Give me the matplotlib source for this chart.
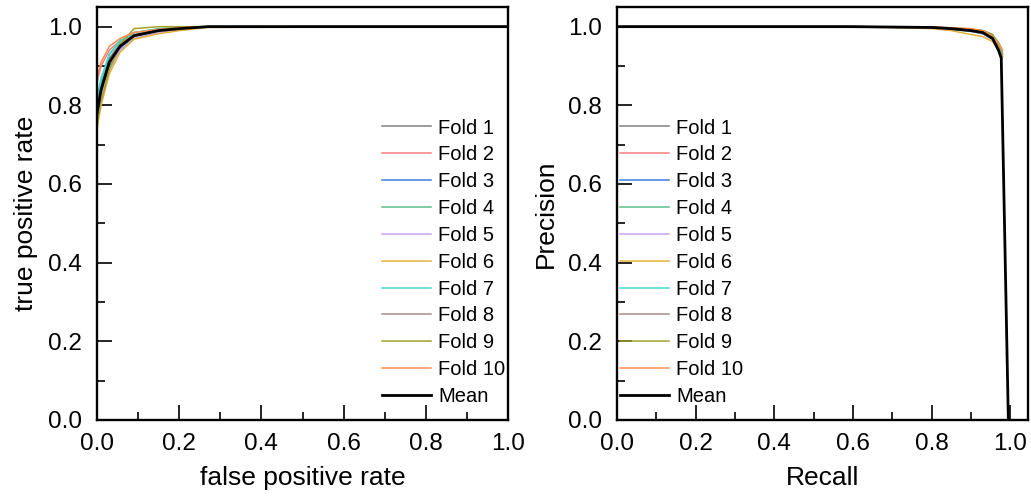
import matplotlib
matplotlib.use("Agg")
from matplotlib import pyplot as plt
from matplotlib.ticker import MultipleLocator

plt.rcParams['font.family'] = ['Liberation Sans', 'DejaVu Sans']

fold_labels = ["Fold 1", "Fold 2", "Fold 3", "Fold 4", "Fold 5",
               "Fold 6", "Fold 7", "Fold 8", "Fold 9", "Fold 10"]
fold_colors = ["#808080", "#f47f7f", "#3b7ee0", "#5bbd8c", "#c9a3ea",
               "#e3b13c", "#3fd8d8", "#a88a86", "#a3a32a", "#ff8b4d"]

# ROC curves (false positive rate grid, true positive rate per fold)
roc_fpr = [0, 0.01, 0.03, 0.056, 0.09, 0.15, 0.2, 0.27, 1.0]
roc_tpr = [
    [0.80, 0.85, 0.92, 0.955, 0.980, 0.990, 0.995, 1.0, 1.0],
    [0.86, 0.90, 0.94, 0.965, 0.985, 0.993, 0.997, 1.0, 1.0],
    [0.78, 0.83, 0.90, 0.945, 0.975, 0.990, 0.995, 1.0, 1.0],
    [0.80, 0.86, 0.93, 0.960, 0.985, 0.995, 0.998, 1.0, 1.0],
    [0.76, 0.82, 0.89, 0.940, 0.970, 0.985, 0.993, 1.0, 1.0],
    [0.74, 0.80, 0.88, 0.935, 0.968, 0.982, 0.990, 0.998, 1.0],
    [0.82, 0.87, 0.93, 0.965, 0.985, 0.993, 0.997, 1.0, 1.0],
    [0.79, 0.84, 0.91, 0.950, 0.975, 0.990, 0.995, 1.0, 1.0],
    [0.75, 0.81, 0.89, 0.955, 0.995, 1.000, 1.000, 1.0, 1.0],
    [0.87, 0.91, 0.95, 0.970, 0.985, 0.993, 0.997, 1.0, 1.0],
]
roc_mean = [0.78, 0.84, 0.91, 0.95, 0.977, 0.99, 0.995, 1.0, 1.0]

# PR curves (recall grid, precision per fold)
pr_recall = [0, 0.6, 0.8, 0.85, 0.9, 0.93, 0.955, 0.97, 0.98]
pr_precision = [
    [1, 1, 0.998, 0.995, 0.990, 0.985, 0.970, 0.950, 0.930],
    [1, 1, 0.999, 0.997, 0.993, 0.988, 0.975, 0.955, 0.935],
    [1, 1, 0.997, 0.993, 0.988, 0.982, 0.968, 0.945, 0.925],
    [1, 1, 0.999, 0.997, 0.994, 0.990, 0.980, 0.960, 0.940],
    [1, 1, 0.997, 0.994, 0.989, 0.983, 0.970, 0.948, 0.930],
    [1, 1, 0.995, 0.990, 0.980, 0.975, 0.962, 0.940, 0.920],
    [1, 1, 0.998, 0.996, 0.992, 0.990, 0.978, 0.955, 0.935],
    [1, 1, 0.997, 0.994, 0.990, 0.985, 0.970, 0.950, 0.930],
    [1, 1, 0.998, 0.996, 0.993, 0.990, 0.980, 0.950, 0.925],
    [1, 1, 0.999, 0.997, 0.995, 0.990, 0.975, 0.958, 0.940],
]
pr_mean_recall = [0, 0.6, 0.8, 0.85, 0.9, 0.93, 0.955, 0.97, 0.977, 0.995]
pr_mean_precision = [1, 1, 0.998, 0.995, 0.99, 0.985, 0.97, 0.94, 0.92, 0.0]

fig = plt.figure(figsize=(10.31, 4.97), dpi=100)
ax1 = fig.add_axes([97/1031, 77/497, 411/1031, 413/497])
ax2 = fig.add_axes([617/1031, 77/497, 411/1031, 413/497])

for i in range(10):
    ax1.plot(roc_fpr, roc_tpr[i], color=fold_colors[i], lw=1.1, label=fold_labels[i])
    ax2.plot(pr_recall, pr_precision[i], color=fold_colors[i], lw=1.1, label=fold_labels[i])
ax1.plot(roc_fpr, roc_mean, color="black", lw=2, label="Mean")
ax2.plot(pr_mean_recall, pr_mean_precision, color="black", lw=2, label="Mean")

ax1.set_xlim(0, 1.0)
ax2.set_xlim(0, 1.045)
for ax in (ax1, ax2):
    ax.set_ylim(0, 1.05)
    ax.xaxis.set_major_locator(MultipleLocator(0.2))
    ax.xaxis.set_minor_locator(MultipleLocator(0.1))
    ax.yaxis.set_major_locator(MultipleLocator(0.2))
    ax.yaxis.set_minor_locator(MultipleLocator(0.1))
    ax.xaxis.set_major_formatter(lambda v, p: f"{v:.1f}")
    ax.yaxis.set_major_formatter(lambda v, p: f"{v:.1f}")
    ax.tick_params(which="both", direction="in", top=False, right=False, width=1.2)
    ax.tick_params(which="major", length=11, labelsize=17.5)
    ax.tick_params(axis="x", which="major", pad=9)
    ax.tick_params(axis="y", which="major", pad=11)
    ax.tick_params(which="minor", length=6)
    for s in ax.spines.values():
        s.set_linewidth(1.7)

ax1.set_xlabel("false positive rate", fontsize=19, labelpad=8)
ax1.set_ylabel("true positive rate", fontsize=19, labelpad=7)
ax2.set_xlabel("Recall", fontsize=19, labelpad=8)
ax2.set_ylabel("Precision", fontsize=19, labelpad=7)

leg_kw = dict(frameon=False, fontsize=14.5, handlelength=2.45, handletextpad=0.36,
              labelspacing=0.39, borderpad=0, borderaxespad=0)
ax1.legend(loc="upper left", bbox_to_anchor=(0.693, 0.73), **leg_kw)
ax2.legend(loc="upper left", bbox_to_anchor=(0.007, 0.73), **leg_kw)

fig.savefig("out.png", dpi=100)
